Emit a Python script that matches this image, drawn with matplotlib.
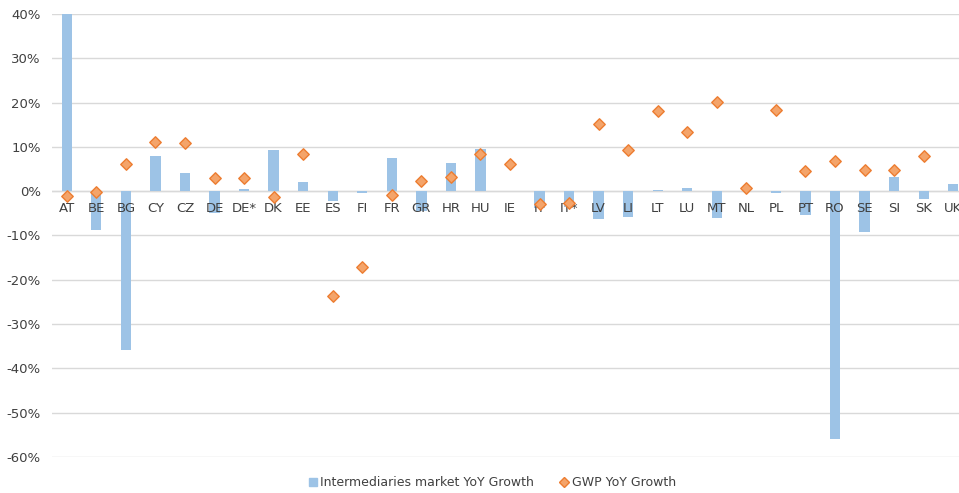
import numpy as np
import matplotlib.pyplot as plt
from matplotlib.ticker import FuncFormatter
from matplotlib.lines import Line2D
from matplotlib.transforms import offset_copy

countries = ["AT", "BE", "BG", "CY", "CZ", "DE", "DE*", "DK", "EE", "ES", "FI",
             "FR", "GR", "HR", "HU", "IE", "IT", "IT*", "LV", "LI", "LT", "LU",
             "MT", "NL", "PL", "PT", "RO", "SE", "SI", "SK", "UK"]

# intermediaries market YoY growth (%)
intermediaries = [40.0, -8.8, -35.9, 8.0, 4.1, -5.0, 0.4, 9.4, 2.1, -2.2, -0.5,
                  7.4, -4.5, 6.4, 9.5, 0.0, -3.8, -3.5, -6.2, -5.8, 0.3, 0.7,
                  -6.0, 0.0, -0.5, -5.4, -56.0, -9.2, 3.1, -1.8, 1.6]

# GWP YoY growth (%), None where no value
gwp = [-1.1, -0.2, 6.2, 11.0, 10.9, 3.0, 3.0, -1.3, 8.3, -23.6, -17.1,
       -0.8, 2.3, 3.2, 8.3, 6.1, -2.8, -2.7, 15.1, 9.2, 18.1, 13.4,
       20.1, 0.8, 18.3, 4.5, 6.8, 4.7, 4.8, 8.0, None]

bar_color = "#9DC3E6"
dia_face = "#F4A46A"
dia_edge = "#ED7D31"
text_color = "#404040"

fig = plt.figure(figsize=(9.59, 4.93), dpi=100)
ax = fig.add_axes([52 / 959, 1 - 457 / 493, 916 / 959, 443 / 493])

x = np.arange(len(countries))
ax.bar(x, intermediaries, width=0.35, color=bar_color, zorder=2)

gx = [i for i, v in enumerate(gwp) if v is not None]
gy = [v for v in gwp if v is not None]
ax.scatter(gx, gy, marker="D", s=34, facecolor=dia_face, edgecolor=dia_edge,
           linewidth=1.0, zorder=6, clip_on=False)

ax.set_xlim(-0.5, len(countries) - 0.5)
ax.set_ylim(-60, 40)
ax.set_yticks(np.arange(-60, 41, 10))
ax.yaxis.set_major_formatter(FuncFormatter(lambda v, p: f"{v:.0f}%"))
ax.grid(axis="y", color="#D9D9D9", linewidth=1.0, zorder=0)
ax.set_axisbelow(True)

for s in ["top", "right", "left", "bottom"]:
    ax.spines[s].set_visible(False)
ax.axhline(0, color="#D9D9D9", linewidth=1.0, zorder=1)

# category labels sit just under the zero line, drawn over the bars
ax.set_xticks([])
lab_tr = offset_copy(ax.transData, fig=fig, x=0, y=-8, units="points")
for i, c in enumerate(countries):
    ax.text(i, 0, c, transform=lab_tr, ha="center", va="top", fontsize=9.5,
            color=text_color, zorder=5, clip_on=False)

ax.tick_params(axis="y", length=0, pad=8, labelsize=9.5, labelcolor=text_color)

handles = [
    Line2D([], [], marker="s", linestyle="none", markersize=6,
           markerfacecolor=bar_color, markeredgecolor=bar_color),
    Line2D([], [], marker="D", linestyle="none", markersize=5,
           markerfacecolor=dia_face, markeredgecolor=dia_edge),
]
fig.legend(handles, ["Intermediaries market YoY Growth", "GWP YoY Growth"],
           loc="center", bbox_to_anchor=(491 / 959, 1 - 483 / 493), ncol=2,
           frameon=False, fontsize=9, labelcolor=text_color,
           handletextpad=0.1, columnspacing=1.9, handlelength=1.0)

fig.savefig("out.png", dpi=100)
